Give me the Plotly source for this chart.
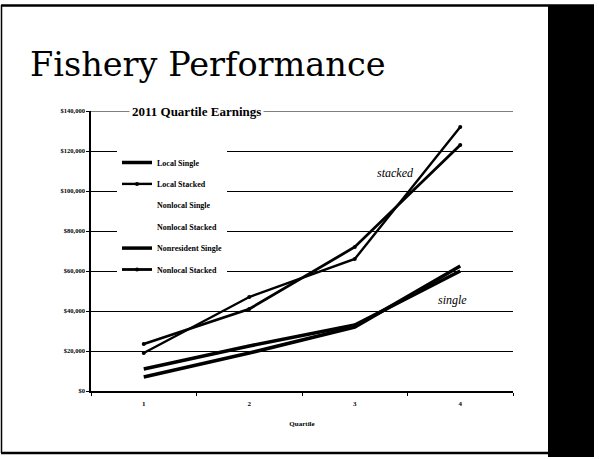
import plotly.graph_objects as go

# ---- data ----
quartiles = [1, 2, 3, 4]
local_single = [11000, 22500, 33000, 60000]
local_stacked = [19000, 47000, 66000, 132000]
nonlocal_single = [None, None, None, None]
nonlocal_stacked_hidden = [None, None, None, None]
nonresident_single = [7000, 19000, 32000, 62500]
nonlocal_stacked = [23500, 41000, 72000, 123000]
y_ticks = [0, 20000, 40000, 60000, 80000, 100000, 120000, 140000]
y_tick_labels = ["$0", "$20,000", "$40,000", "$60,000", "$80,000",
                 "$100,000", "$120,000", "$140,000"]

W, H = 599, 459
L, R, T, B = 91, 86, 111, 68
PW, PH = W - L - R, H - T - B


def px(xp):
    return (xp - L) / PW


def py(yp):
    return (H - B - yp) / PH


SERIF = "Liberation Serif"
fig = go.Figure()

series = [
    ("Local Single", local_single, 3.5, False, "black"),
    ("Local Stacked", local_stacked, 2.4, True, "black"),
    ("Nonlocal Single", nonlocal_single, 2, False, "white"),
    ("Nonlocal Stacked", nonlocal_stacked_hidden, 2, False, "white"),
    ("Nonresident Single", nonresident_single, 3.5, False, "black"),
    ("Nonlocal Stacked", nonlocal_stacked, 2.8, True, "black"),
]
for i, (name, vals, w, mk, col) in enumerate(series):
    fig.add_trace(go.Scatter(
        x=quartiles, y=vals, name=name, legendgroup=f"g{i}",
        mode="lines+markers" if mk else "lines",
        line=dict(color=col, width=w),
        marker=dict(size=4, color=col),
    ))

fig.update_layout(
    width=W, height=H,
    margin=dict(l=L, r=R, t=T, b=B),
    paper_bgcolor="white", plot_bgcolor="white",
    showlegend=True,
    legend=dict(x=px(117), y=py(148), xanchor="left", yanchor="top",
                bgcolor="white", borderwidth=0, tracegroupgap=2.4,
                font=dict(family=SERIF, size=8, color="black", weight="bold")),
    xaxis=dict(range=[0.5, 4.5], tickvals=quartiles, ticks="",
               showgrid=False, zeroline=False, ticklabelstandoff=5,
               showline=True, linecolor="black", linewidth=1.5,
               minor=dict(tick0=0.5, dtick=1, ticks="outside", ticklen=3,
                          tickcolor="black", showgrid=False),
               tickfont=dict(family=SERIF, size=7, color="black", weight="bold"),
               title=dict(text="Quartile", standoff=14,
                          font=dict(family=SERIF, size=7, color="black", weight="bold"))),
    yaxis=dict(range=[0, 140000], tickvals=y_ticks, ticktext=y_tick_labels,
               ticks="outside", ticklen=3, tickcolor="black",
               showgrid=True, gridcolor="black", gridwidth=1, zeroline=False,
               showline=True, linecolor="black", linewidth=1.5,
               tickfont=dict(family=SERIF, size=6.5, color="black", weight="bold")),
    font=dict(family=SERIF, color="black"),
)

annotations = [
    dict(text="Fishery Performance", xref="paper", yref="paper",
         x=px(28), y=py(65), xanchor="left", yanchor="middle", showarrow=False,
         font=dict(family="DejaVu Serif", size=33.5, color="black")),
    dict(text="<b>2011 Quartile Earnings</b>", xref="paper", yref="paper",
         x=px(196), y=1, xanchor="center", yanchor="middle", showarrow=False,
         bgcolor="white", borderpad=2,
         font=dict(family=SERIF, size=13, color="black")),
    dict(text="<i>stacked</i>", x=3.39, y=109000, xref="x", yref="y",
         showarrow=False, font=dict(family=SERIF, size=12, color="black")),
    dict(text="<i>single</i>", x=3.93, y=45500, xref="x", yref="y",
         showarrow=False, font=dict(family=SERIF, size=12, color="black")),
]
fig.update_layout(annotations=annotations)

shapes = [
    # top gridline of the plot
    dict(type="line", xref="paper", yref="y", x0=0, x1=1,
         y0=y_ticks[-1], y1=y_ticks[-1], line=dict(color="black", width=1.2),
         layer="below"),
    # black band on the right
    dict(type="rect", xref="paper", yref="paper", x0=px(548), x1=px(594),
         y0=py(457), y1=py(5), fillcolor="black", line=dict(width=0), layer="above"),
    # slide borders
    dict(type="line", xref="paper", yref="paper", x0=px(1), x1=px(594),
         y0=py(5.5), y1=py(5.5), line=dict(color="black", width=2.5), layer="above"),
    dict(type="line", xref="paper", yref="paper", x0=px(1.5), x1=px(1.5),
         y0=py(5), y1=py(453), line=dict(color="black", width=1.5)),
    dict(type="line", xref="paper", yref="paper", x0=px(1), x1=px(594),
         y0=py(453), y1=py(453), line=dict(color="black", width=2.5)),
]
fig.update_layout(shapes=shapes)

fig.write_html("out.html", config={"displayModeBar": False},
               post_script="document.body.style.margin='0';")
